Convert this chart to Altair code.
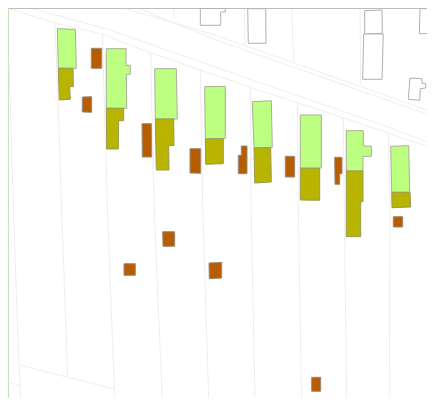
import altair as alt

band = [[[0, 0], [8.5, 0], [8.5, 410], [0, 410]]]

plots = [
    [[57.3, 28.7], [75.3, 29.3], [76.3, 68.3], [58.3, 68.3]],
    [[106.3, 48.7], [126, 48.7], [126, 65.3], [130.3, 65.3], [130.3, 74.3], [126.3, 74.3], [126.7, 108.3], [106.3, 108.3]],
    [[154.7, 68.7], [176.3, 68.7], [177.3, 119], [155.3, 119]],
    [[204.7, 86.7], [225.3, 86.3], [225.3, 138.3], [205.3, 139]],
    [[252.3, 101.7], [271.3, 100.7], [272.3, 147.3], [254, 148]],
    [[300.3, 115], [321.3, 115], [321.3, 168], [300.3, 168]],
    [[346.3, 130.7], [363.3, 130.7], [363.3, 146], [371.3, 146], [371.3, 156.3], [363, 156.3], [363, 171], [346.3, 171]],
    [[390.7, 146.3], [408.7, 145.7], [409.7, 192.3], [391.7, 192.3]],
]

annexes = [
    [[58.3, 68.3], [73, 68.3], [73.3, 86.7], [69.7, 86.7], [70.3, 99.3], [59.3, 100]],
    [[106.3, 108.3], [123.7, 108.3], [123.7, 120.7], [118.7, 120.7], [118.3, 149], [106.7, 149]],
    [[155.3, 119], [173.7, 119], [174, 145.3], [168.7, 145.7], [169, 170], [156.3, 170]],
    [[205.3, 139], [223.3, 138.7], [223.3, 163.7], [205.7, 164.3]],
    [[254, 148], [270.7, 147.7], [271.3, 182], [254.7, 183]],
    [[300.3, 168.3], [319.7, 168.3], [319.7, 200.3], [300.3, 200]],
    [[346.3, 171], [363, 171], [363, 201.7], [360.7, 201.7], [360.7, 236.7], [346.3, 236.7]],
    [[391.7, 192.3], [410, 192.3], [410.7, 207], [392, 207.7]],
]

sheds = [
    [[91.3, 48.3], [101.7, 48.3], [101.7, 68.3], [91.3, 68.3]],
    [[82.3, 97], [91.7, 96.7], [91.7, 112.3], [82.3, 112]],
    [[142, 123.7], [151.3, 123.7], [151.7, 157], [142.3, 157]],
    [[190, 148.7], [200.7, 148.7], [200.7, 173.3], [190, 173]],
    [[241.3, 146], [247, 146], [247, 173.7], [238.3, 173.7], [238.3, 155.3], [241.3, 155.3]],
    [[285.3, 156.3], [294.7, 156.3], [294.7, 177], [285.3, 177]],
    [[334.7, 157.3], [342, 157.3], [342, 173.7], [339.7, 173.7], [339.7, 184.3], [335, 184.3]],
    [[393.3, 216.7], [402.7, 216.7], [402.7, 227], [393.3, 227]],
    [[162.7, 231.7], [174.7, 231.7], [174.7, 246.3], [163, 246.3]],
    [[124, 263.7], [135.3, 263.7], [135.3, 275.3], [124, 275.3]],
    [[209, 263], [221.7, 262.3], [221.7, 278], [209.3, 278.7]],
    [[311.7, 377.3], [320.7, 377.3], [320.7, 391.3], [311.7, 391.3]],
]

outlines = [
    [[200.3, 8.5], [200.3, 25.3], [220.7, 25.3], [220.7, 12], [225.3, 12], [225.3, 8.5]],
    [[247.7, 8.7], [248.3, 43.3], [266, 43.3], [265.7, 8.7]],
    [[364.7, 10.7], [382, 10], [382.3, 33.3], [364.7, 34]],
    [[363.7, 34], [383.3, 34], [382, 79.3], [362.7, 79.3]],
    [[420, 8.7], [419.3, 33.7], [429.7, 33.7], [430.3, 8.7]],
    [[410, 78], [422, 78.7], [422, 83.3], [425.7, 83.3], [425.7, 88], [420.3, 88.7], [419.7, 100.3], [408.3, 99.3]],
]

top_edge = [[[8.5, 8.5], [435, 8.5]]]

parcel_lines = [
    [[8.5, 8.5], [55, 23], [102.3, 34], [150.7, 53], [200.3, 70], [250.7, 87.3], [297.3, 102.7], [343.3, 118], [388.3, 133], [435, 149]],
    [[33, 9], [110, 30], [215, 67], [388, 127], [435, 145]],
    [[127, 9], [215, 35], [435, 113]],
    [[140, 9], [215, 39.5], [435, 117]],
    [[9, 60], [13.3, 205], [18.3, 348], [20, 385], [21, 410]],
    [[55, 23], [58, 100], [61.5, 205], [67.7, 377.3]],
    [[102.3, 34], [107.3, 205], [114.3, 389], [116, 410]],
    [[150.7, 53], [154, 205], [162.7, 410]],
    [[200.3, 70], [202.7, 205], [209, 410]],
    [[250.7, 87.3], [251, 205], [255.3, 410]],
    [[297.3, 102.7], [298.3, 205], [301.7, 410]],
    [[343.3, 118], [344.3, 205], [346.7, 410]],
    [[388.3, 133], [390, 205], [389.3, 410]],
    [[20, 365], [67.7, 377.3], [114.3, 389]],
    [[8.3, 381.7], [20.3, 385.7]],
    [[173.3, 9], [174.7, 18]],
    [[244.3, 8.7], [245, 45]],
    [[291.7, 8.7], [293.7, 62]],
    [[360, 8.7], [360.7, 85]],
    [[433.3, 8.7], [433.3, 110]],
]


def polygons(rings):
    return alt.Data(values=[
        {"type": "Feature", "properties": {},
         "geometry": {"type": "Polygon", "coordinates": [r + [r[0]]]}}
        for r in rings
    ])


def lines(paths):
    return alt.Data(values=[
        {"type": "Feature", "properties": {},
         "geometry": {"type": "LineString", "coordinates": p}}
        for p in paths
    ])


def project(chart):
    return chart.project(type="identity", scale=1, translate=[-8, -8])


def fill_layer(rings, fill, stroke, width=1.0):
    return project(alt.Chart(polygons(rings)).mark_geoshape(
        fill=fill, stroke=stroke, strokeWidth=width
    ))


def line_layer(paths, stroke, width=1.0):
    return project(alt.Chart(lines(paths)).mark_geoshape(
        filled=False, stroke=stroke, strokeWidth=width
    ))


chart = alt.layer(
    fill_layer(band, "#c8e2b6", "#c8e2b6"),
    line_layer(parcel_lines, "#eeeeee"),
    line_layer(top_edge, "#bdbdbd"),
    fill_layer(outlines, "#ffffff", "#b0b0b0"),
    fill_layer(plots, "#bdff80", "#a8b09a"),
    fill_layer(annexes, "#b8b400", "#9a9a50"),
    fill_layer(sheds, "#b85c00", "#9a8a7a"),
).properties(width=419, height=390, padding=0, background="white").configure_view(stroke=None)

chart.save("out.html", embed_options={"renderer": "svg", "actions": False})
